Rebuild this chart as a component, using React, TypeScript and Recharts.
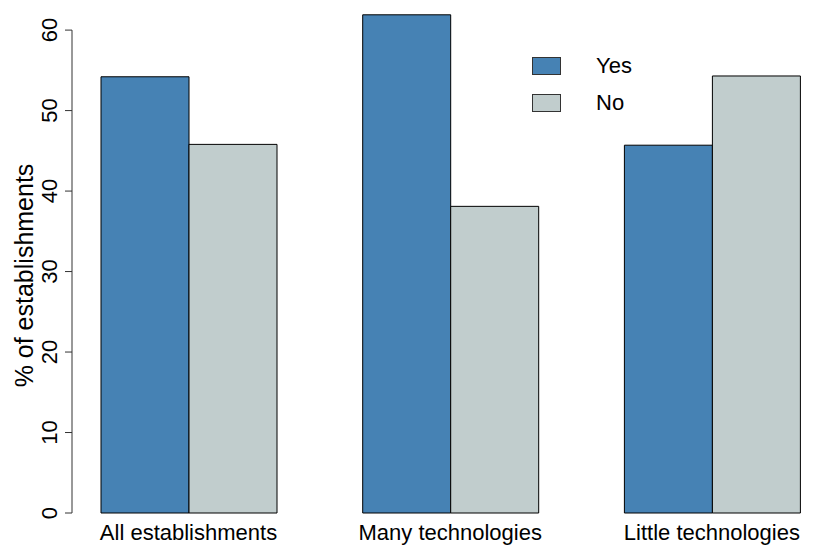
import React from 'react';
import {
  BarChart,
  Bar,
  XAxis,
  YAxis,
  Legend,
  ReferenceLine
} from 'recharts';

const categories = ['All establishments', 'Many technologies', 'Little technologies'];
const yesValues = [54.2, 61.9, 45.7];
const noValues = [45.8, 38.1, 54.3];
const yTicks = [0, 10, 20, 30, 40, 50, 60];
const seriesOrder = ['Yes', 'No'];

const data = categories.map((name, i) => ({ name, Yes: yesValues[i], No: noValues[i] }));

const FONT = '"Liberation Sans", Arial, sans-serif';
const AXIS_COLOR = '#333';

const XTick = (props: any) => {
  const { x, y, payload } = props;
  return (
    <text x={x} y={y + 27} textAnchor="middle" fontSize={22} fill="#000" fontFamily={FONT}>
      {payload.value}
    </text>
  );
};

const YTick = (props: any) => {
  const { x, y, payload } = props;
  const bx = x - 8;
  return (
    <text
      x={bx}
      y={y}
      transform={`rotate(-90, ${bx}, ${y})`}
      textAnchor="middle"
      fontSize={22}
      fill="#000"
      fontFamily={FONT}
    >
      {payload.value}
    </text>
  );
};

const YTitle = (props: any) => {
  const { viewBox } = props;
  const cy = viewBox.y + viewBox.height / 2 + 12;
  return (
    <text
      x={33}
      y={cy}
      transform={`rotate(-90, 33, ${cy})`}
      textAnchor="middle"
      fontSize={25}
      fill="#000"
      fontFamily={FONT}
    >
      % of establishments
    </text>
  );
};

const LegendBox = (props: any) => {
  const payload = [...(props.payload || [])].sort(
    (a: any, b: any) => seriesOrder.indexOf(a.value) - seriesOrder.indexOf(b.value)
  );
  return (
    <div style={{ fontFamily: FONT }}>
      {payload.map((p: any) => (
        <div key={p.value} style={{ display: 'flex', alignItems: 'center', height: 37 }}>
          <span
            style={{
              display: 'inline-block',
              width: 29,
              height: 18,
              background: p.color,
              border: '1px solid #333',
              boxSizing: 'border-box'
            }}
          />
          <span style={{ marginLeft: 35, fontSize: 22, color: '#000' }}>{p.value}</span>
        </div>
      ))}
    </div>
  );
};

export default function App() {
  return (
    <div
      style={{
        position: 'absolute',
        left: 0,
        top: 0,
        width: 816,
        height: 552,
        background: '#fff',
        fontFamily: FONT
      }}
    >
      <BarChart
        width={816}
        height={552}
        data={data}
        margin={{ top: 14, right: 0, bottom: 0, left: 0 }}
        barGap={0}
        barCategoryGap={43.35}
      >
        <XAxis
          dataKey="name"
          height={39}
          axisLine={false}
          tickLine={false}
          tickSize={0}
          tickMargin={0}
          tick={<XTick />}
          padding={{ left: -14.35, right: -26.75 }}
          interval={0}
        />
        <XAxis xAxisId="n" type="number" domain={[0, 1]} allowDataOverflow hide />
        <YAxis
          width={72}
          domain={[0, 62]}
          ticks={yTicks}
          axisLine={false}
          tickLine={{ stroke: AXIS_COLOR }}
          tickSize={7}
          tickMargin={0}
          tick={<YTick />}
          interval={0}
          label={<YTitle />}
        />
        <ReferenceLine
          xAxisId="n"
          segment={[{ x: 0, y: 0 }, { x: 0, y: 60 }]}
          stroke={AXIS_COLOR}
          ifOverflow="visible"
        />
        <Legend
          layout="vertical"
          align="center"
          verticalAlign="middle"
          wrapperStyle={{ top: 47.5, left: 532, width: 'auto' }}
          content={<LegendBox />}
        />
        <Bar dataKey="Yes" fill="#4682B4" stroke="#000" strokeWidth={1} isAnimationActive={false} />
        <Bar dataKey="No" fill="#C1CDCD" stroke="#000" strokeWidth={1} isAnimationActive={false} />
      </BarChart>
    </div>
  );
}
